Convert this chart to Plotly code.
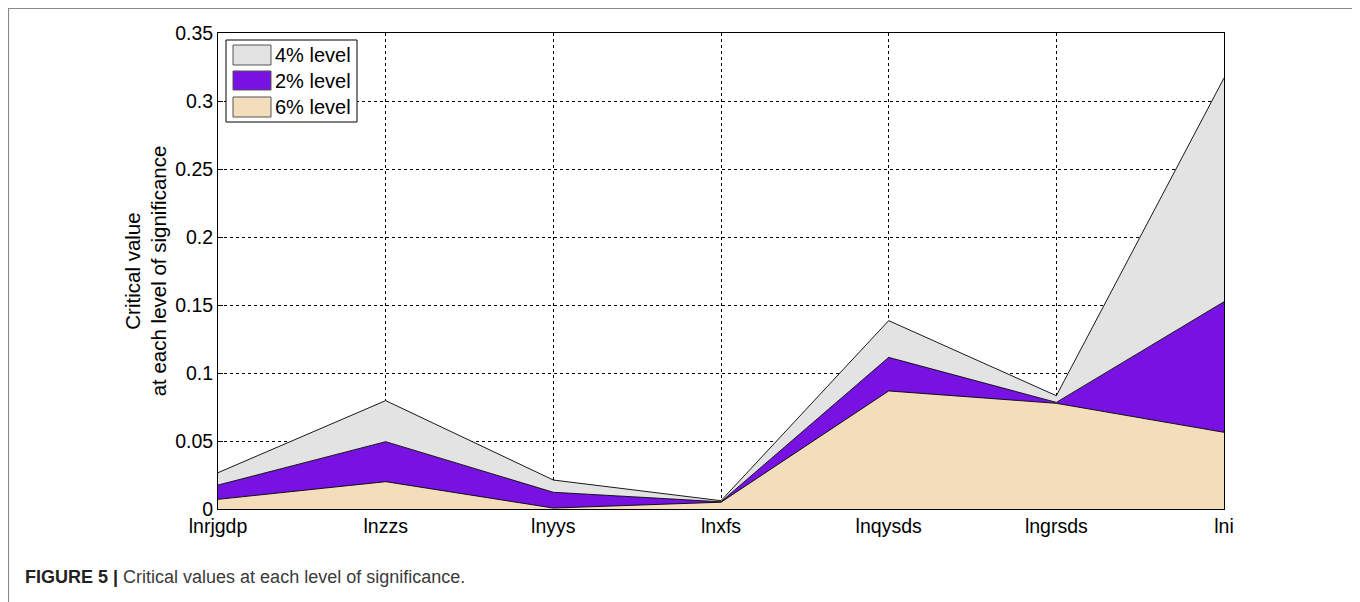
import plotly.graph_objects as go

categories = ["lnrjgdp", "lnzzs", "lnyys", "lnxfs", "lnqysds", "lngrsds", "lni"]
level_6 = [0.0071, 0.0201, 0.0007, 0.0050, 0.0868, 0.0777, 0.0564]
level_2 = [0.0105, 0.0294, 0.0116, 0.0003, 0.0247, 0.0007, 0.0960]
level_4 = [0.0091, 0.0302, 0.0090, 0.0008, 0.0270, 0.0049, 0.1645]
y_ticks = [0, 0.05, 0.1, 0.15, 0.2, 0.25, 0.3, 0.35]
y_ticktext = ["0", "0.05", "0.1", "0.15", "0.2", "0.25", "0.3", "0.35"]

FONT = "Liberation Sans, Arial, sans-serif"
PW, PH = 1006, 476  # plot area size in px
L, T = 210, 25

def px_x(dx):
    return dx / PW

def px_y(dy):
    return 1 - dy / PH

fig = go.Figure()
series = [("6% level", level_6, "#F3DDBA"), ("2% level", level_2, "#7812E2"), ("4% level", level_4, "#E3E3E3")]
for name, vals, col in series:
    fig.add_trace(go.Scatter(
        x=categories, y=vals, name=name, mode="lines", stackgroup="one",
        line=dict(color="black", width=0.9), fillcolor=col, showlegend=False,
    ))

fig.update_layout(
    width=1360, height=602,
    margin=dict(l=L, r=1360 - L - PW, t=T, b=602 - T - PH),
    paper_bgcolor="white", plot_bgcolor="white",
    font=dict(family=FONT, size=19.5, color="black"),
    showlegend=False,
    xaxis=dict(type="category", range=[0, 6], showgrid=True, gridcolor="black",
               griddash="dot", gridwidth=1, showline=True, linecolor="black",
               linewidth=1, mirror=True, ticks="", tickfont=dict(size=19.5),
               zeroline=False),
    yaxis=dict(range=[0, 0.35], tickvals=y_ticks, ticktext=y_ticktext,
               showgrid=True, gridcolor="black", griddash="dot", gridwidth=1,
               showline=True, linecolor="black", linewidth=1, mirror=True,
               ticks="inside", ticklen=5, tickcolor="black", tickfont=dict(size=19.5),
               zeroline=False,
               title=dict(text="Critical value<br>at each level of significance",
                          font=dict(size=20.5), standoff=2)),
)

# custom legend (box, swatches, labels)
fig.add_shape(type="rect", xref="paper", yref="paper",
              x0=px_x(8), x1=px_x(139), y0=px_y(7), y1=px_y(89),
              line=dict(color="black", width=1), fillcolor="white", layer="above")
legend_items = [("4% level", "#E3E3E3", 12, 32), ("2% level", "#7812E2", 38, 57), ("6% level", "#F3DDBA", 64, 84)]
for label, col, ya, yb in legend_items:
    fig.add_shape(type="rect", xref="paper", yref="paper",
                  x0=px_x(15), x1=px_x(53), y0=px_y(ya), y1=px_y(yb),
                  line=dict(color="#555555", width=1), fillcolor=col, layer="above")
    fig.add_annotation(xref="paper", yref="paper", x=px_x(55), y=px_y((ya + yb) / 2),
                       xanchor="left", yanchor="middle", showarrow=False, text=label,
                       font=dict(family=FONT, size=20, color="black"))

# outer frame
fig.add_shape(type="rect", xref="paper", yref="paper",
              x0=px_x(-L + 0.5), x1=px_x(1345 - L), y0=-0.3, y1=px_y(-T + 0.5),
              line=dict(color="#8a8a8a", width=1.2), fillcolor="rgba(0,0,0,0)", layer="above")

fig.add_annotation(xref="paper", yref="paper", x=px_x(15 - L), y=px_y(569 - T),
                   xanchor="left", yanchor="middle", showarrow=False,
                   text="<b><span style='color:#222222'>FIGURE 5 |</span></b> Critical values at each level of significance.",
                   font=dict(family=FONT, size=18, color="#3a3a3a"))

fig.write_html("out.html")
